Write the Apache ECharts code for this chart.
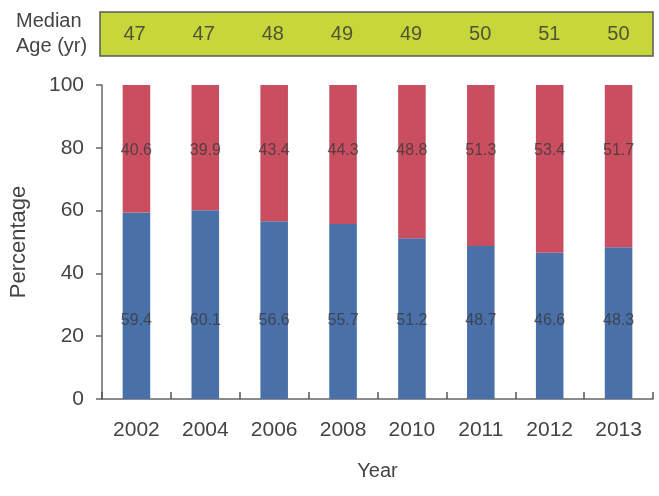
<!DOCTYPE html>
<html>
<head>
<meta charset="utf-8">
<script src="https://cdn.jsdelivr.net/npm/echarts@6/dist/echarts.min.js"></script>
<style>
  html, body { margin: 0; padding: 0; background: #fff; }
  #chart { width: 659px; height: 496px; }
</style>
</head>
<body>
<div id="chart"></div>
<script>
'use strict';

const years = ['2002', '2004', '2006', '2008', '2010', '2011', '2012', '2013'];
const lower = [59.4, 60.1, 56.6, 55.7, 51.2, 48.7, 46.6, 48.3];
const upper = [40.6, 39.9, 43.4, 44.3, 48.8, 51.3, 53.4, 51.7];
const medianAge = [47, 47, 48, 49, 49, 50, 51, 50];
const yTicks = [0, 20, 40, 60, 80, 100];

// labels sit at fixed heights in the original, not at segment centres
const lowerLabelY = 25;
const upperLabelY = 79;

const font = '"Liberation Sans", Arial, sans-serif';
const textColor = '#444';

const chart = echarts.init(document.getElementById('chart'));

const option = {
  animation: false,
  textStyle: { fontFamily: font },
  grid: [
    { left: 100, right: 6, top: 85, bottom: 97 },
    { left: 100, right: 6, top: 12, height: 44, show: true,
      backgroundColor: '#c6d63b', borderColor: '#5a5a5a', borderWidth: 1.5 }
  ],
  xAxis: [
    {
      type: 'category', gridIndex: 0, data: years,
      name: 'Year', nameLocation: 'middle', nameGap: 62,
      nameTextStyle: { fontSize: 20, color: textColor, fontFamily: font },
      axisLine: { lineStyle: { color: '#666', width: 1.5 } },
      axisTick: { show: true, alignWithLabel: false, interval: 0, inside: true, length: 7,
        lineStyle: { color: '#555', width: 1.5 } },
      axisLabel: { fontSize: 21, color: textColor, margin: 21 }
    },
    {
      type: 'category', gridIndex: 1, data: years, show: false
    }
  ],
  yAxis: [
    {
      type: 'value', gridIndex: 0, min: 0, max: 100, interval: 20,
      name: 'Percentage', nameLocation: 'middle', nameGap: 72,
      nameTextStyle: { fontSize: 22, color: textColor, fontFamily: font },
      axisLine: { show: true, lineStyle: { color: '#666', width: 1.5 } },
      axisTick: { show: true, length: 6, lineStyle: { color: '#666', width: 1.5 } },
      axisLabel: {
        fontSize: 21, color: textColor, margin: 18,
        formatter: v => yTicks.includes(v) ? String(v) : ''
      },
      splitLine: { show: false }
    },
    { type: 'value', gridIndex: 1, min: 0, max: 1, show: false }
  ],
  graphic: [
    {
      type: 'text', left: 16, top: 9,
      style: {
        text: 'Median\nAge (yr)', fontSize: 20, lineHeight: 25,
        fill: textColor, align: 'center', fontFamily: font
      }
    }
  ],
  series: [
    {
      type: 'bar', stack: 'p', data: lower, barWidth: '40%',
      itemStyle: { color: '#4a70aa' }
    },
    {
      type: 'bar', stack: 'p', data: upper, barWidth: '40%',
      itemStyle: { color: '#c94e60' }
    },
    {
      type: 'scatter', symbolSize: 0, silent: true,
      data: lower.map(() => lowerLabelY),
      label: {
        show: true, position: 'inside', fontSize: 16, color: '#3a3a3a',
        formatter: p => lower[p.dataIndex].toFixed(1)
      }
    },
    {
      type: 'scatter', symbolSize: 0, silent: true,
      data: upper.map(() => upperLabelY),
      label: {
        show: true, position: 'inside', fontSize: 16, color: '#3a3a3a',
        formatter: p => upper[p.dataIndex].toFixed(1)
      }
    },
    {
      type: 'scatter', xAxisIndex: 1, yAxisIndex: 1, symbolSize: 0, silent: true,
      data: medianAge.map(() => 0.5),
      label: {
        show: true, position: 'inside', fontSize: 20, color: '#333',
        formatter: p => String(medianAge[p.dataIndex])
      }
    }
  ]
};

chart.setOption(option);
</script>
</body>
</html>
